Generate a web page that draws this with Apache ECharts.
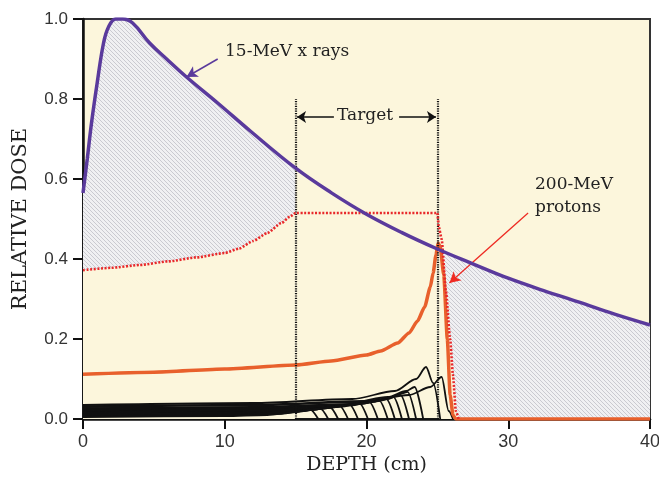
<!DOCTYPE html>
<html>
<head>
<meta charset="utf-8">
<script src="https://cdn.jsdelivr.net/npm/echarts@6/dist/echarts.min.js"></script>
<style>
  html, body { margin: 0; padding: 0; background: #fff; }
  #chart { width: 659px; height: 477px; }
</style>
</head>
<body>
<div id="chart"></div>
<script>
// depth (cm) vs relative dose
var xTicks = [0, 10, 20, 30, 40];
var yTicks = [0, 0.2, 0.4, 0.6, 0.8, 1.0];

// 15-MeV x rays
var xray = [[0,0.565],[0.3,0.65],[0.6,0.74],[1,0.84],[1.45,0.94],[1.8,0.98],[2.3,1.0],[2.8,1.0],
  [3.5,0.99],[4.7,0.94],[5.9,0.9],[7.3,0.855],[9.5,0.79],[11.8,0.72],[15,0.627],
  [17.5,0.566],[20,0.512],[22.5,0.466],[25,0.425],[27.5,0.388],[30,0.352],
  [32.5,0.321],[35,0.292],[37.5,0.262],[40,0.235]];
var xrayLeft = [[0,0.565],[0.3,0.65],[0.6,0.74],[1,0.84],[1.45,0.94],[1.8,0.98],[2.3,1.0],[2.8,1.0],
  [3.5,0.99],[4.7,0.94],[5.9,0.9],[7.3,0.855],[9.5,0.79],[11.8,0.72],[15,0.627]];
var xrayRight = [[25,0.425],[27.5,0.388],[30,0.352],[32.5,0.321],[35,0.292],[37.5,0.262],[40,0.235]];

// 200-MeV protons, spread-out Bragg peak (dotted)
var sobp = [[0,0.372],[2,0.378],[4,0.385],[6,0.394],[8,0.404],[10,0.415],[11,0.426],[12,0.445],
  [13,0.465],[14,0.49],[14.6,0.506],[15,0.515],[20,0.515],[25,0.515],[25.1,0.48],[25.3,0.45],
  [25.6,0.32],[25.9,0.2],[26.1,0.11],[26.3,0.02],[26.5,0]];
var sobpLeft = [[0,0.372],[2,0.378],[4,0.385],[6,0.394],[8,0.404],[10,0.415],[11,0.426],[12,0.445],
  [13,0.465],[14,0.49],[14.6,0.506],[15,0.515]];
var sobpRight = [[25,0.515],[25.1,0.48],[25.3,0.45],[25.6,0.32],[25.9,0.2],[26.1,0.11],[26.3,0.02],[26.5,0]];

// single (pristine) Bragg peak
var bragg = [[0,0.112],[5,0.117],[10,0.125],[15,0.135],[17.5,0.145],[20,0.16],[21,0.17],[22.2,0.19],
  [23,0.215],[23.6,0.245],[24.1,0.28],[24.5,0.33],[24.7,0.365],[24.9,0.41],[25.05,0.44],[25.2,0.43],
  [25.45,0.36],[25.7,0.2],[25.9,0.06],[26.1,0.01],[26.3,0],[40,0]];

// weighted component peaks (black)
var peaks = [
  [[0,0.032],[12,0.036],[20,0.045],[23,0.06],[24.5,0.08],[25.3,0.105],[25.8,0.02],[26.1,0]],
  [[0,0.035],[12,0.04],[19,0.05],[22,0.07],[23.5,0.1],[24.2,0.13],[24.7,0.09],[25.2,0]],
  [[0,0.03],[12,0.034],[19,0.042],[21.5,0.055],[22.8,0.07],[23.4,0.08],[24.0,0]],
  [[0,0.027],[12,0.03],[19,0.038],[21.5,0.05],[22.6,0.065],[22.9,0.068],[23.5,0]],
  [[0,0.025],[12,0.028],[18,0.035],[21,0.046],[22.1,0.058],[22.4,0.06],[23.0,0]],
  [[0,0.023],[12,0.026],[18,0.033],[20.5,0.043],[21.6,0.053],[21.9,0.055],[22.5,0]],
  [[0,0.021],[12,0.024],[17,0.03],[20,0.04],[21.1,0.048],[21.4,0.05],[22.0,0]],
  [[0,0.019],[12,0.022],[17,0.028],[19.5,0.037],[20.6,0.044],[20.9,0.046],[21.5,0]],
  [[0,0.017],[12,0.02],[16,0.025],[19,0.034],[19.9,0.04],[20.2,0.042],[20.8,0]],
  [[0,0.015],[12,0.018],[16,0.023],[18.3,0.031],[19.2,0.037],[19.5,0.039],[20.1,0]],
  [[0,0.013],[12,0.016],[15,0.02],[17.6,0.029],[18.5,0.034],[18.8,0.036],[19.4,0]],
  [[0,0.011],[12,0.014],[15,0.018],[17,0.026],[17.8,0.031],[18.1,0.033],[18.7,0]],
  [[0,0.009],[10,0.011],[14,0.015],[16.3,0.023],[17.1,0.028],[17.4,0.03],[18.0,0]],
  [[0,0.007],[10,0.009],[14,0.013],[15.6,0.02],[16.4,0.025],[16.7,0.027],[17.3,0]],
  [[0,0.005],[10,0.007],[13,0.01],[15,0.017],[15.7,0.022],[16.0,0.024],[16.6,0]]
];

var targetEdges = [15, 25];

var bgYellow = '#fcf6dc';
var serif = '"DejaVu Serif", "Liberation Serif", serif';
var tickFont = '"Liberation Sans", "DejaVu Sans", sans-serif';

function hatch() {
  var c = document.createElement('canvas');
  c.width = 4; c.height = 4;
  var g = c.getContext('2d');
  g.fillStyle = '#f0f0f2';
  g.fillRect(0, 0, 4, 4);
  g.strokeStyle = '#cacad0';
  g.lineWidth = 1;
  g.beginPath();
  g.moveTo(-1, -1); g.lineTo(5, 5);
  g.moveTo(-1, 3); g.lineTo(1, 5);
  g.moveTo(3, -1); g.lineTo(5, 1);
  g.stroke();
  return c;
}

var chart = echarts.init(document.getElementById('chart'));
var hatchFill = { image: hatch(), repeat: 'repeat' };

var series = [];
[xrayLeft, xrayRight].forEach(function (d) {
  series.push({ type: 'line', data: d, symbol: 'none', smooth: 0.4, z: 1,
    lineStyle: { width: 0 }, areaStyle: { color: hatchFill, opacity: 1 } });
});
[sobpLeft, sobpRight].forEach(function (d) {
  series.push({ type: 'line', data: d, symbol: 'none', z: 2,
    lineStyle: { width: 0 }, areaStyle: { color: bgYellow, opacity: 1 } });
});
peaks.forEach(function (d) {
  series.push({ type: 'line', data: d, symbol: 'none', smooth: 0.3, smoothMonotone: 'x', z: 3,
    lineStyle: { color: '#111', width: 1.8 } });
});
series.push({ type: 'line', data: bragg, symbol: 'none', smooth: 0.2, smoothMonotone: 'x', z: 4,
  lineStyle: { color: '#e8602c', width: 3.5 } });
series.push({ type: 'line', data: sobp, symbol: 'none', smooth: 0.2, smoothMonotone: 'x', z: 5,
  lineStyle: { color: '#e8282a', width: 2.6, type: [2, 1.6] } });
series.push({ type: 'line', data: xray, symbol: 'none', smooth: 0.4, z: 6,
  lineStyle: { color: '#5a3a9c', width: 3.5 },
  markLine: {
    silent: true, animation: false, symbol: ['none', 'arrow'], label: { show: false },
    data: [
      [{ coord: [targetEdges[0], 0], symbol: 'none', lineStyle: { color: '#111', width: 2.2, type: [1.2, 1.2] } },
       { coord: [targetEdges[0], 0.8], symbol: 'none' }],
      [{ coord: [targetEdges[1], 0], symbol: 'none', lineStyle: { color: '#111', width: 2.2, type: [1.2, 1.2] } },
       { coord: [targetEdges[1], 0.8], symbol: 'none' }],
      [{ coord: [17.7, 0.755], lineStyle: { color: '#111', width: 1.5, type: 'solid' } },
       { coord: [15.1, 0.755], symbolSize: [9, 9] }],
      [{ coord: [22.3, 0.755], lineStyle: { color: '#111', width: 1.5, type: 'solid' } },
       { coord: [24.9, 0.755], symbolSize: [9, 9] }],
      [{ coord: [9.5, 0.9], lineStyle: { color: '#5a3a9c', width: 1.5, type: 'solid' } },
       { coord: [7.3, 0.855], symbolSize: [9, 11] }],
      [{ coord: [31.4, 0.515], lineStyle: { color: '#ee2a22', width: 1.3, type: 'solid' } },
       { coord: [25.85, 0.34], symbolSize: [9, 11] }]
    ]
  }
});

chart.setOption({
  animation: false,
  grid: { left: 83, right: 9, top: 19, bottom: 58, show: true, backgroundColor: bgYellow,
    borderColor: '#333', borderWidth: 2, containLabel: false, outerBoundsMode: 'none' },
  xAxis: {
    type: 'value', min: xTicks[0], max: xTicks[xTicks.length - 1], interval: 10,
    name: 'DEPTH (cm)', nameLocation: 'middle', nameGap: 27,
    nameTextStyle: { fontFamily: serif, fontSize: 19, color: '#222' },
    axisLine: { lineStyle: { color: '#111', width: 2.5 } },
    axisTick: { length: 10, lineStyle: { color: '#111', width: 2 } },
    axisLabel: { margin: 14, fontFamily: tickFont, fontSize: 18, color: '#333' },
    splitLine: { show: false }
  },
  yAxis: {
    type: 'value', min: yTicks[0], max: yTicks[yTicks.length - 1], interval: 0.2,
    name: 'RELATIVE DOSE', nameLocation: 'middle', nameGap: 52,
    nameTextStyle: { fontFamily: serif, fontSize: 21, color: '#222' },
    axisLine: { lineStyle: { color: '#111', width: 2.5 } },
    axisTick: { length: 10, lineStyle: { color: '#111', width: 2 } },
    axisLabel: { margin: 15, fontFamily: tickFont, fontSize: 17, color: '#333',
      formatter: function (v) { return v.toFixed(1); } },
    splitLine: { show: false }
  },
  graphic: [
    { type: 'text', left: 225, top: 43, z: 100,
      style: { text: '15-MeV x rays', font: '17px ' + serif, fill: '#222' } },
    { type: 'text', left: 337, top: 107, z: 100,
      style: { text: 'Target', font: '17px ' + serif, fill: '#222' } },
    { type: 'text', left: 535, top: 173, z: 100,
      style: { text: '200-MeV\nprotons', font: '17px ' + serif, fill: '#222', lineHeight: 23 } }
  ],
  series: series
});
</script>
</body>
</html>
